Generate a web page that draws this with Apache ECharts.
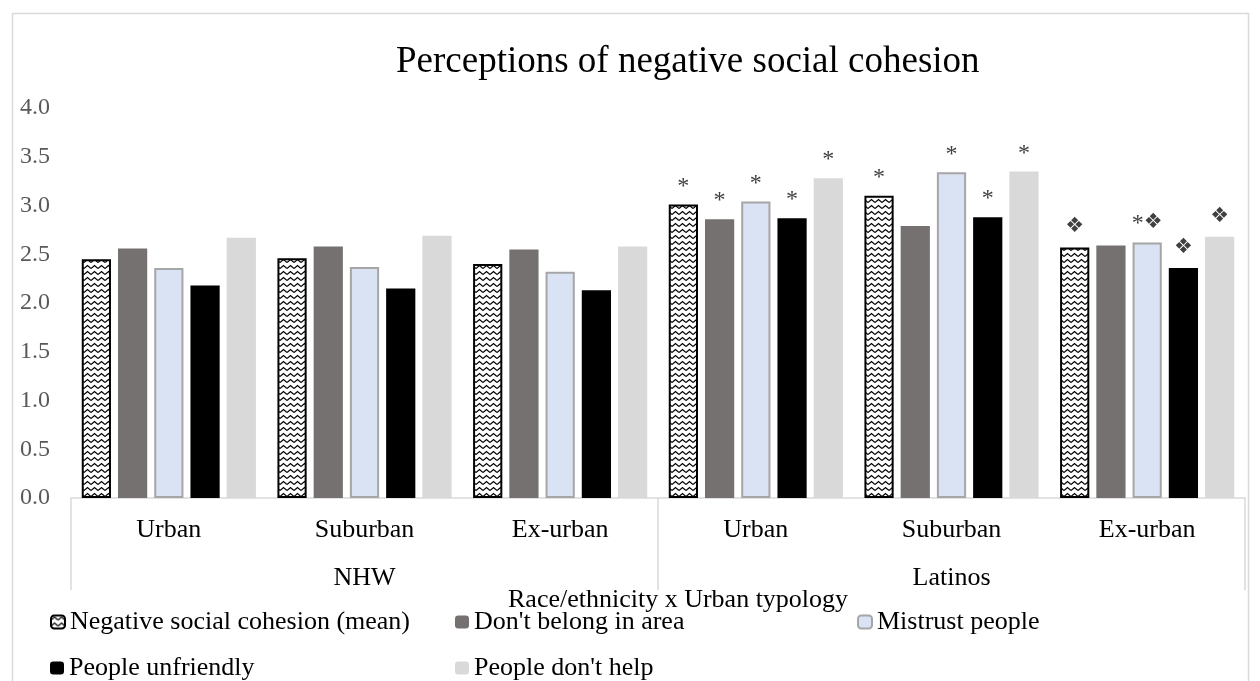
<!DOCTYPE html>
<html>
<head>
<meta charset="utf-8">
<script src="https://cdn.jsdelivr.net/npm/echarts@6/dist/echarts.min.js"></script>
<style>
  html, body { margin: 0; padding: 0; background: #ffffff; }
  #chart { width: 1260px; height: 681px; }
</style>
</head>
<body>
<div id="chart"></div>
<script>
// Urban typology within each race/ethnicity group
const categories = ['Urban', 'Suburban', 'Ex-urban', 'Urban', 'Suburban', 'Ex-urban'];
const groups = ['NHW', 'Latinos'];
const yTicks = [0, 0.5, 1, 1.5, 2, 2.5, 3, 3.5, 4];

const seriesNames = [
  'Negative social cohesion (mean)',
  "Don't belong in area",
  'Mistrust people',
  'People unfriendly',
  "People don't help"
];

// Mean scores
const negCohesion = [2.45, 2.46, 2.40, 3.01, 3.10, 2.57];
const dontBelong  = [2.56, 2.58, 2.55, 2.86, 2.79, 2.59];
const mistrust    = [2.36, 2.37, 2.32, 3.04, 3.34, 2.62];
const unfriendly  = [2.18, 2.15, 2.13, 2.87, 2.88, 2.36];
const dontHelp    = [2.67, 2.69, 2.58, 3.28, 3.35, 2.68];

// Significance marks shown above the bars
const sigNegCohesion = ['', '', '', '*', '*', '❖'];
const sigDontBelong  = ['', '', '', '*', '', ''];
const sigMistrust    = ['', '', '', '*', '*', '*❖'];
const sigUnfriendly  = ['', '', '', '*', '*', '❖'];
const sigDontHelp    = ['', '', '', '*', '*', '❖'];

const SERIF = "'Liberation Serif', 'Times New Roman', serif";

// Zigzag fill for the composite-score bars
function zigzagPattern() {
  const c = document.createElement('canvas');
  c.width = 7; c.height = 6;
  const g = c.getContext('2d');
  g.fillStyle = '#ffffff';
  g.fillRect(0, 0, 7, 6);
  g.strokeStyle = '#000000';
  g.lineWidth = 1.2;
  g.beginPath();
  g.moveTo(0, 4.5);
  g.lineTo(3.5, 1.5);
  g.lineTo(7, 4.5);
  g.stroke();
  return c;
}

function markLabel(marks) {
  return {
    show: true,
    position: 'top',
    distance: 6,
    formatter: p => {
      const m = marks[p.dataIndex];
      if (!m) return '';
      return m.split('').map(ch => ch === '*' ? '{ast|*}' : '{dia|❖}').join('');
    },
    rich: {
      ast: { fontFamily: SERIF, fontSize: 24, color: '#404040' },
      dia: { fontFamily: "'DejaVu Sans', sans-serif", fontSize: 21, color: '#404040', padding: [0, 0, 4, 0] }
    }
  };
}

const styles = [
  { color: { image: zigzagPattern(), repeat: 'repeat' }, borderColor: '#000000', borderWidth: 2 },
  { color: '#767171' },
  { color: '#dae3f3', borderColor: '#a6a6a6', borderWidth: 2 },
  { color: '#000000' },
  { color: '#d9d9d9' }
];
const values = [negCohesion, dontBelong, mistrust, unfriendly, dontHelp];
const marks = [sigNegCohesion, sigDontBelong, sigMistrust, sigUnfriendly, sigDontHelp];

const series = seriesNames.map((name, i) => ({
  name,
  type: 'bar',
  xAxisIndex: 0,
  yAxisIndex: 0,
  barGap: '24%',
  barCategoryGap: '11%',
  itemStyle: styles[i],
  label: markLabel(marks[i]),
  data: values[i]
}));

// legend entries laid out in three columns, two rows
const legendSlots = [
  { left: 50, top: 609 },
  { left: 455, top: 609 },
  { left: 857, top: 609 },
  { left: 50, top: 655 },
  { left: 455, top: 655 }
];
const legends = seriesNames.map((name, i) => ({
  data: [name],
  left: legendSlots[i].left,
  top: legendSlots[i].top,
  itemWidth: 14,
  itemHeight: 13,
  padding: 0,
  selectedMode: false,
  textStyle: { fontFamily: SERIF, fontSize: 26, color: '#000000' }
}));

const chart = echarts.init(document.getElementById('chart'), null, { renderer: 'canvas' });
chart.setOption({
  backgroundColor: '#ffffff',
  animation: false,
  title: [
    {
      text: 'Perceptions of negative social cohesion',
      left: 396,
      top: 44,
      padding: 0,
      textStyle: { fontFamily: SERIF, fontSize: 37, fontWeight: 'normal', color: '#000000' }
    },
    {
      text: 'Race/ethnicity x Urban typology',
      left: 508,
      top: 587,
      padding: 0,
      textStyle: { fontFamily: SERIF, fontSize: 26, fontWeight: 'normal', color: '#000000' }
    }
  ],
  graphic: [
    {
      type: 'rect',
      shape: { x: 12.5, y: 13.5, width: 1236, height: 720 },
      style: { fill: 'none', stroke: '#d9d9d9', lineWidth: 1.5 },
      silent: true,
      z: -1
    }
  ],
  legend: legends,
  grid: { left: 71, right: 15, top: 108, bottom: 183, containLabel: false },
  xAxis: [
    {
      type: 'category',
      data: categories,
      position: 'bottom',
      axisLine: { show: true, lineStyle: { color: '#d9d9d9', width: 1.5 } },
      axisTick: { show: false },
      axisLabel: { margin: 19, fontFamily: SERIF, fontSize: 26, color: '#000000', interval: 0 }
    },
    {
      type: 'category',
      data: groups,
      position: 'bottom',
      axisLine: { show: false },
      axisTick: { show: true, length: 92, lineStyle: { color: '#d9d9d9', width: 1.5 } },
      axisLabel: { margin: 67, fontFamily: SERIF, fontSize: 26, color: '#000000' }
    }
  ],
  yAxis: {
    type: 'value',
    min: yTicks[0],
    max: yTicks[yTicks.length - 1],
    interval: yTicks[1] - yTicks[0],
    axisLine: { show: false },
    axisTick: { show: false },
    splitLine: { show: false },
    axisLabel: {
      margin: 21,
      fontFamily: SERIF,
      fontSize: 24,
      color: '#595959',
      formatter: v => v.toFixed(1)
    }
  },
  series
});
</script>
</body>
</html>
